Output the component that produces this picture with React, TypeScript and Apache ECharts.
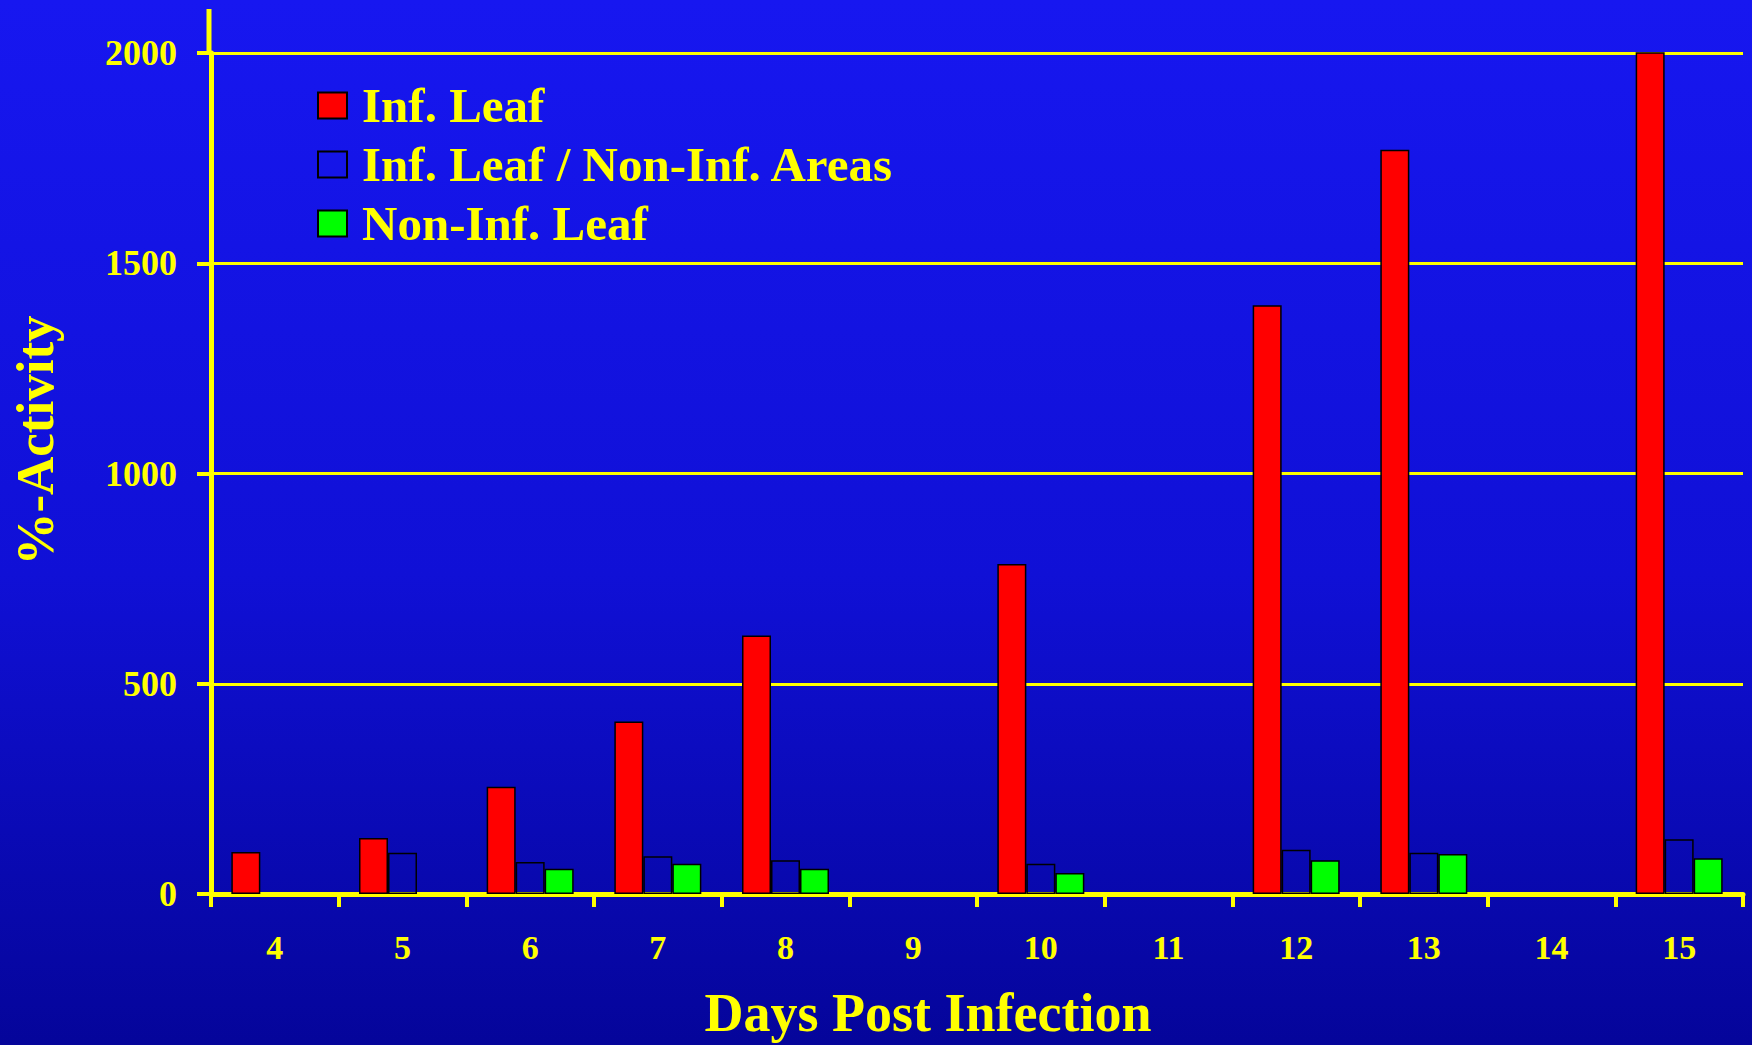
import React, { useEffect, useRef } from "react";
import * as echarts from "echarts";

const days = ["4", "5", "6", "7", "8", "9", "10", "11", "12", "13", "14", "15"];
const infLeaf = [100, 133, 255, 410, 615, null, 785, null, 1400, 1770, null, 2010];
const infLeafRatio = [null, 98, 76, 90, 80, null, 72, null, 105, 98, null, 130];
const nonInfLeaf = [null, null, 60, 72, 60, null, 50, null, 80, 95, null, 85];
const seriesNames = ["Inf. Leaf", "Inf. Leaf / Non-Inf. Areas", "Non-Inf. Leaf"];
const yMin = 0;
const yMax = 2000;
const yStep = 500;

const YELLOW = "#ffff00";
const FONT = "'Liberation Serif', 'Times New Roman', serif";

export default function App() {
  const ref = useRef<HTMLDivElement>(null);
  useEffect(() => {
    if (!ref.current) return;
    const chart = echarts.init(ref.current, undefined, { renderer: "svg" });
    const barBase = {
      type: "bar" as const,
      barWidth: 29,
      barGap: "0%",
    };
    chart.setOption({
      animation: false,
      backgroundColor: {
        type: "linear",
        x: 0,
        y: 0,
        x2: 0,
        y2: 1,
        colorStops: [
          { offset: 0, color: "#1717f0" },
          { offset: 0.55, color: "#1010d6" },
          { offset: 1, color: "#05059a" },
        ],
      },
      textStyle: { fontFamily: FONT, fontWeight: "bold" },
      grid: { left: 209, right: 9, top: 53, bottom: 148, containLabel: false },
      legend: {
        orient: "vertical",
        left: 312,
        top: 76,
        icon: "rect",
        itemWidth: 29,
        itemHeight: 26,
        itemGap: 10,
        selectedMode: false,
        textStyle: {
          color: YELLOW,
          fontSize: 49,
          fontFamily: FONT,
          fontWeight: "bold",
          padding: [0, 0, 0, 10],
        },
        data: seriesNames,
      },
      xAxis: {
        type: "category",
        data: days,
        name: "Days Post Infection",
        nameLocation: "middle",
        nameGap: 92,
        nameTextStyle: {
          color: YELLOW,
          fontSize: 54,
          fontFamily: FONT,
          fontWeight: "bold",
          padding: [0, 98, 0, 0],
        },
        axisLine: { lineStyle: { color: YELLOW, width: 5 } },
        axisTick: { show: true, length: 13, lineStyle: { color: YELLOW, width: 4 } },
        axisLabel: {
          color: YELLOW,
          fontSize: 34,
          fontFamily: FONT,
          fontWeight: "bold",
          margin: 36,
        },
      },
      yAxis: {
        type: "value",
        min: yMin,
        max: yMax,
        interval: yStep,
        name: "%-Activity",
        nameLocation: "middle",
        nameGap: 150,
        nameTextStyle: {
          color: YELLOW,
          fontSize: 53,
          fontFamily: FONT,
          fontWeight: "bold",
          padding: [0, 0, 0, 66],
        },
        axisLine: { show: true, lineStyle: { color: YELLOW, width: 5 } },
        axisTick: { show: true, length: 14, lineStyle: { color: YELLOW, width: 4 } },
        axisLabel: {
          color: YELLOW,
          fontSize: 36,
          fontFamily: FONT,
          fontWeight: "bold",
          margin: 34,
          formatter: (v: number) => String(v),
        },
        splitLine: { show: true, lineStyle: { color: YELLOW, width: 3 } },
      },
      graphic: [
        {
          type: "line",
          shape: { x1: 209, y1: 9, x2: 209, y2: 55 },
          style: { stroke: YELLOW, lineWidth: 5 },
        },
      ],
      series: [
        {
          ...barBase,
          name: seriesNames[0],
          data: infLeaf,
          itemStyle: { color: "#ff0000", borderColor: "#000000", borderWidth: 1.5 },
        },
        {
          ...barBase,
          name: seriesNames[1],
          data: infLeafRatio,
          itemStyle: { color: "rgba(0,0,0,0)", borderColor: "#000000", borderWidth: 1.5 },
        },
        {
          ...barBase,
          name: seriesNames[2],
          data: nonInfLeaf,
          itemStyle: { color: "#00ff00", borderColor: "#000000", borderWidth: 1.5 },
        },
      ],
    });
    return () => chart.dispose();
  }, []);
  return (
    <div
      ref={ref}
      style={{ position: "fixed", left: 0, top: 0, width: 1752, height: 1045 }}
    />
  );
}
